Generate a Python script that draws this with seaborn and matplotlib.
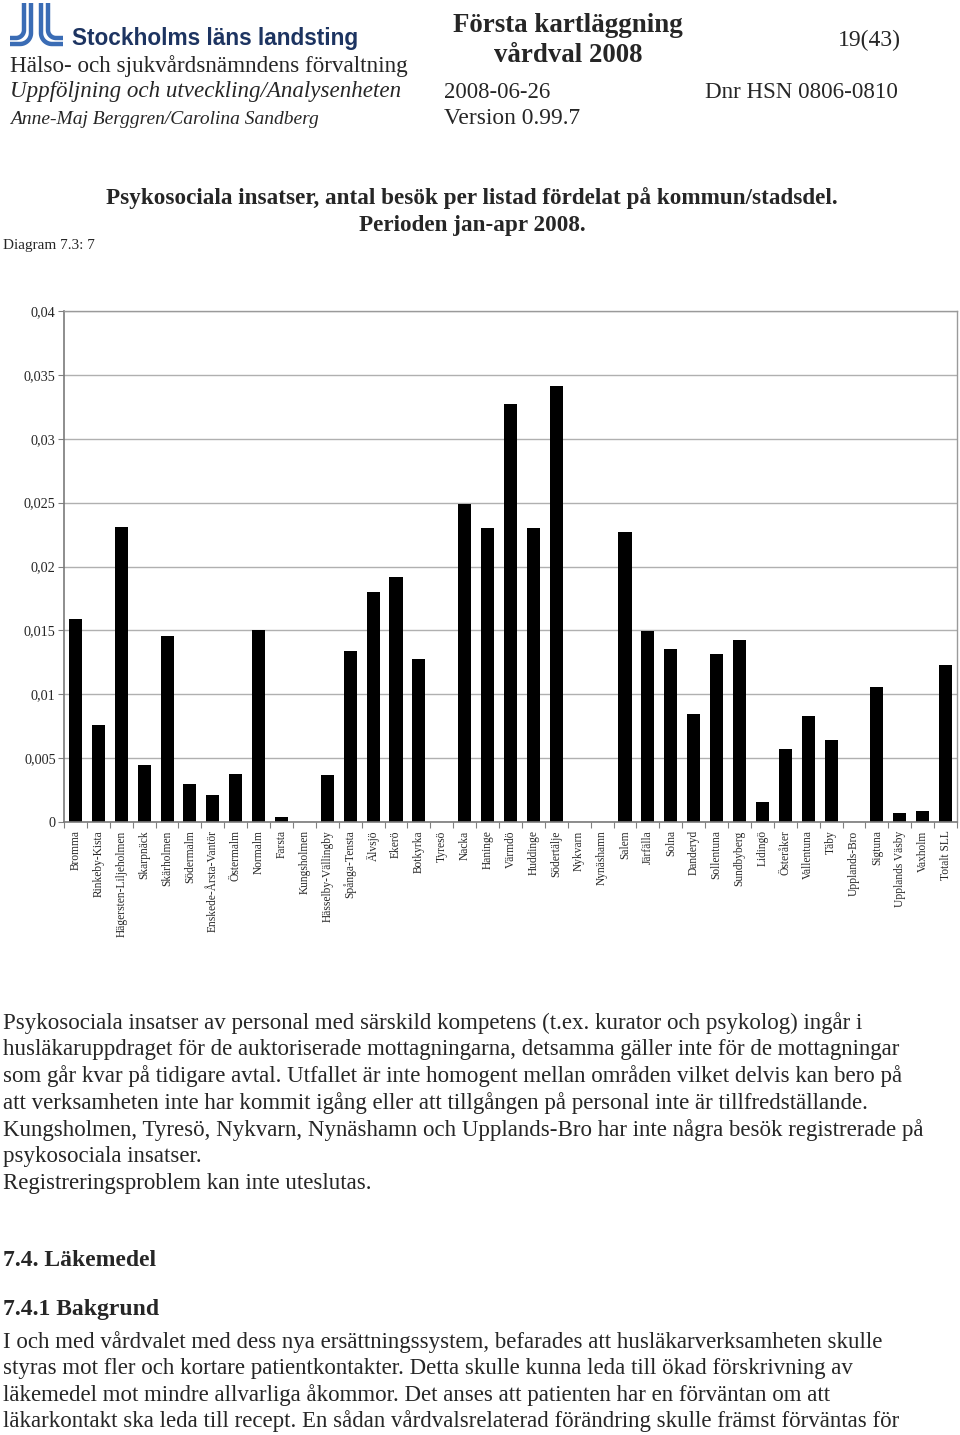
import numpy as np
import pandas as pd
import matplotlib
matplotlib.use("Agg")
import matplotlib.pyplot as plt
from matplotlib.lines import Line2D
import seaborn as sns

# ---------------- data ----------------
categories = [
    "Bromma", "Rinkeby-Kista", "Hägersten-Liljeholmen", "Skarpnäck", "Skärholmen",
    "Södermalm", "Enskede-Årsta-Vantör", "Östermalm", "Normalm", "Farsta",
    "Kungsholmen", "Hässelby-Vällingby", "Spånga-Tensta", "Älvsjö", "Ekerö",
    "Botkyrka", "Tyresö", "Nacka", "Haninge", "Värmdö", "Huddinge", "Södertälje",
    "Nykvarn", "Nynäshamn", "Salem", "Järfälla", "Solna", "Danderyd", "Sollentuna",
    "Sundbyberg", "Lidingö", "Österåker", "Vallentuna", "Täby", "Upplands-Bro",
    "Sigtuna", "Upplands Väsby", "Vaxholm", "Totalt SLL",
]
values = [
    0.0159, 0.0076, 0.0231, 0.00446, 0.01456,
    0.0030, 0.00214, 0.00378, 0.01505, 0.00039,
    0.0, 0.0037, 0.01335, 0.01803, 0.01915,
    0.01276, 0.0, 0.02486, 0.02304, 0.03272, 0.02298, 0.0341,
    0.0, 0.0, 0.02267, 0.01497, 0.01354, 0.00842, 0.01317,
    0.01422, 0.00159, 0.00574, 0.00827, 0.00639, 0.0,
    0.01054, 0.00073, 0.00088, 0.01231,
]
y_ticks = [0.0, 0.005, 0.01, 0.015, 0.02, 0.025, 0.03, 0.035, 0.04]
y_tick_labels = ["0", "0,005", "0,01", "0,015", "0,02", "0,025", "0,03", "0,035", "0,04"]

chart_title = ["Psykosociala insatser, antal besök per listad fördelat på kommun/stadsdel.",
               "Perioden jan-apr 2008."]
body1 = [
    "Psykosociala insatser av personal med särskild kompetens (t.ex. kurator och psykolog) ingår i",
    "husläkaruppdraget för de auktoriserade mottagningarna, detsamma gäller inte för de mottagningar",
    "som går kvar på tidigare avtal. Utfallet är inte homogent mellan områden vilket delvis kan bero på",
    "att verksamheten inte har kommit igång eller att tillgången på personal inte är tillfredställande.",
    "Kungsholmen, Tyresö, Nykvarn, Nynäshamn och Upplands-Bro har inte några besök registrerade på",
    "psykosociala insatser.",
    "Registreringsproblem kan inte uteslutas.",
]
body2 = [
    "I och med vårdvalet med dess nya ersättningssystem, befarades att husläkarverksamheten skulle",
    "styras mot fler och kortare patientkontakter. Detta skulle kunna leda till ökad förskrivning av",
    "läkemedel mot mindre allvarliga åkommor. Det anses att patienten har en förväntan om att",
    "läkarkontakt ska leda till recept. En sådan vårdvalsrelaterad förändring skulle främst förväntas för",
]

df = pd.DataFrame({"kommun": categories, "varde": values})

# ---------------- figure ----------------
sns.set_theme(style="white")
plt.rcParams["font.family"] = ["Liberation Serif", "DejaVu Serif"]

W, H = 960, 1435
fig = plt.figure(figsize=(W / 100, H / 100), dpi=100)
fig.patch.set_facecolor("white")


def fx(x):
    return x / W


def fy(y):
    return 1 - y / H


def ftext(x, y, s, **kw):
    fig.text(fx(x), fy(y), s, va="center", **kw)


# logo
blue = "#3a6cb5"
lw = 3.2
t = np.linspace(0, np.pi / 2, 20)
for xv, yh, r in [(24, 38, 8), (31, 44, 11)]:
    xs = list(np.full(2, xv)) + list(xv - r + r * np.cos(t)) + [10]
    ys = [3, yh - r] + list(yh - r + r * np.sin(t)) + [yh]
    fig.add_artist(Line2D([fx(v) for v in xs], [fy(v) for v in ys], color=blue, lw=lw,
                          solid_capstyle="butt"))
for xv, yh, r in [(48, 38, 8), (41, 44, 11)]:
    xs = list(np.full(2, xv)) + list(xv + r - r * np.cos(t)) + [63]
    ys = [3, yh - r] + list(yh - r + r * np.sin(t)) + [yh]
    fig.add_artist(Line2D([fx(v) for v in xs], [fy(v) for v in ys], color=blue, lw=lw,
                          solid_capstyle="butt"))

ftext(72, 38, "Stockholms läns landsting", fontsize=16.3, fontweight="bold",
      color="#1d3461", family=["Liberation Sans Narrow", "Liberation Sans"])

# header
ftext(10, 66, "Hälso- och sjukvårdsnämndens förvaltning", fontsize=16.7)
ftext(10, 92, "Uppföljning och utveckling/Analysenheten", fontsize=16.6, style="italic")
ftext(10, 119, "Anne-Maj Berggren/Carolina Sandberg", fontsize=14, style="italic")
ftext(568, 25, "Första kartläggning", fontsize=19.4, fontweight="bold", ha="center")
ftext(568, 56, "vårdval 2008", fontsize=19.4, fontweight="bold", ha="center")
ftext(838, 40, "19(43)", fontsize=17)
ftext(444, 92, "2008-06-26", fontsize=16.4)
ftext(705, 92, "Dnr HSN 0806-0810", fontsize=16.6)
ftext(444, 119, "Version 0.99.7", fontsize=16.9)

# chart title
ftext(472, 198, chart_title[0], fontsize=16.7, fontweight="bold", ha="center")
ftext(472, 225, chart_title[1], fontsize=16.7, fontweight="bold", ha="center")
ftext(3, 246, "Diagram 7.3: 7", fontsize=11)

# ---------------- chart ----------------
ax = fig.add_axes([fx(64), fy(822), fx(957) - fx(64), (822 - 311) / H])
sns.barplot(data=df, x="kommun", y="varde", color="black", width=0.57,
            saturation=1, ax=ax, edgecolor="black", linewidth=0)
ax.set_xlim(-0.5, len(categories) - 0.5)
ax.set_ylim(0, 0.04)
ax.set_xlabel("")
ax.set_ylabel("")
ax.set_yticks(y_ticks)
ax.set_yticklabels(y_tick_labels, fontsize=10.3)
ax.set_xticks(range(len(categories)))
ax.set_xticklabels(categories, rotation=90, fontsize=8.3, va="top", ha="center")
ax.set_xticks(np.arange(-0.5, len(categories)), minor=True)
ax.tick_params(axis="x", which="major", length=0, pad=6)
ax.tick_params(axis="x", which="minor", length=4, color="#808080", width=0.8,
               direction="out", bottom=True)
ax.tick_params(axis="y", length=4, color="#808080", width=0.8, direction="out",
               left=True, pad=2)
ax.grid(axis="y", color="#b0b0b0", linewidth=1)
ax.set_axisbelow(True)
for side in ["left", "bottom"]:
    ax.spines[side].set_color("#7a7a7a")
    ax.spines[side].set_linewidth(1.2)
for side in ["top", "right"]:
    ax.spines[side].set_color("#9a9a9a")
    ax.spines[side].set_linewidth(1.0)
    ax.spines[side].set_visible(True)

# ---------------- body text ----------------
y0 = 1023
for i, line in enumerate(body1):
    ftext(3, y0 + i * 26.7, line, fontsize=16.5)

ftext(3, 1260, "7.4. Läkemedel", fontsize=17, fontweight="bold")
ftext(3, 1310, "7.4.1 Bakgrund", fontsize=17, fontweight="bold")
y0 = 1342
for i, line in enumerate(body2):
    ftext(3, y0 + i * 26.5, line, fontsize=16.5)

fig.savefig("out.png", dpi=100, facecolor="white")
